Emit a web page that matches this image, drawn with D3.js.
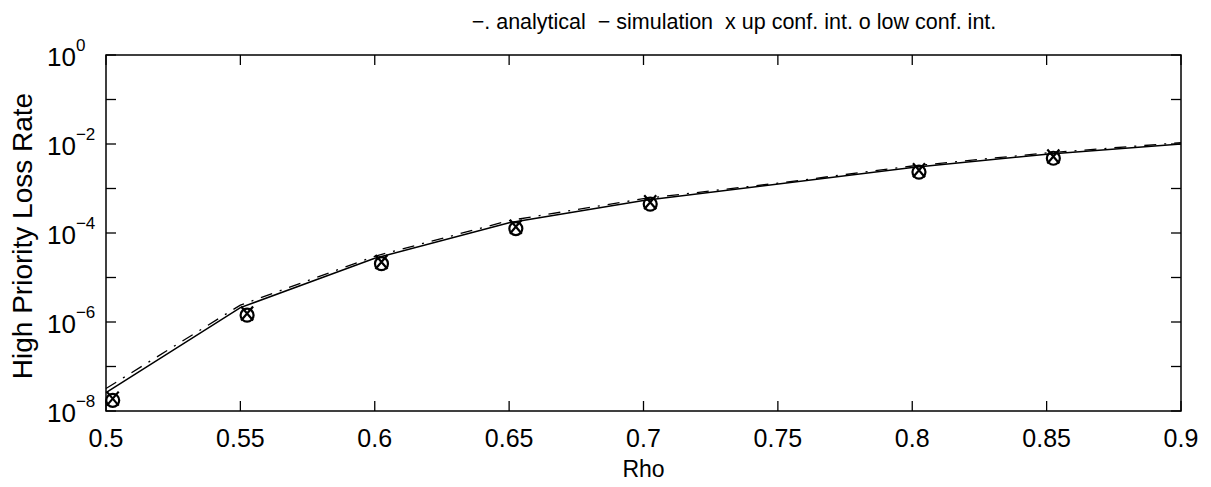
<!DOCTYPE html>
<html>
<head>
<meta charset="utf-8">
<script src="https://cdn.jsdelivr.net/npm/d3@7"></script>
<style>
  body { margin: 0; background: #fff; }
  text { font-family: 'Liberation Sans', Arial, sans-serif; fill: #000; }
</style>
</head>
<body>
<svg id="chart" width="1211" height="487"></svg>
<script>
const width = 1211
const height = 487
const margin = { top: 55, right: 30, bottom: 76, left: 106 }

// analytical curve
const rhoAnalytical = [0.5, 0.55, 0.6, 0.65, 0.7, 0.75, 0.8, 0.85, 0.9]
const lossAnalytical = [3.2e-8, 2.4e-6, 3.0e-5, 1.9e-4, 5.9e-4, 1.32e-3, 3.2e-3, 6.3e-3, 1.07e-2]

// simulation curve
const rhoSimulation = [0.5, 0.55, 0.6, 0.65, 0.7, 0.8, 0.85, 0.9]
const lossSimulation = [2.6e-8, 2.1e-6, 2.7e-5, 1.7e-4, 5.4e-4, 2.95e-3, 5.9e-3, 1.0e-2]

// confidence intervals
const rhoConf = [0.5025, 0.5525, 0.6025, 0.6525, 0.7025, 0.8025, 0.8525]
const upConf = [1.9e-8, 1.55e-6, 2.24e-5, 1.38e-4, 4.9e-4, 2.57e-3, 5.25e-3]
const lowConf = [1.74e-8, 1.42e-6, 2.04e-5, 1.26e-4, 4.47e-4, 2.34e-3, 4.79e-3]

const xTicks = [0.5, 0.55, 0.6, 0.65, 0.7, 0.75, 0.8, 0.85, 0.9]
const yExponents = [0, -1, -2, -3, -4, -5, -6, -7, -8]
const yLabelExponents = [0, -2, -4, -6, -8]

const svg = d3.select('#chart')

const x = d3.scaleLinear()
  .domain([0.5, 0.9])
  .range([margin.left, width - margin.right])

const y = d3.scaleLog()
  .domain([1e-8, 1])
  .range([height - margin.bottom, margin.top])

const line = d3.line()
  .x(d => x(d[0]))
  .y(d => y(d[1]))

// curves
svg.append('path')
  .datum(d3.zip(rhoAnalytical, lossAnalytical))
  .attr('d', line)
  .attr('fill', 'none')
  .attr('stroke', '#000')
  .attr('stroke-width', 1.3)
  .attr('stroke-dasharray', '12,8,2,8')

svg.append('path')
  .datum(d3.zip(rhoSimulation, lossSimulation))
  .attr('d', line)
  .attr('fill', 'none')
  .attr('stroke', '#000')
  .attr('stroke-width', 1.5)

// markers
const ms = 6
svg.selectAll('.up')
  .data(d3.zip(rhoConf, upConf))
  .enter()
  .append('path')
  .attr('class', 'up')
  .attr('d', d => {
    const cx = x(d[0]); const cy = y(d[1])
    return `M${cx - ms},${cy - ms - 1}L${cx + ms},${cy + ms + 1}M${cx - ms},${cy + ms + 1}L${cx + ms},${cy - ms - 1}`
  })
  .attr('stroke', '#000')
  .attr('stroke-width', 2.2)

svg.selectAll('.low')
  .data(d3.zip(rhoConf, lowConf))
  .enter()
  .append('circle')
  .attr('class', 'low')
  .attr('cx', d => x(d[0]))
  .attr('cy', d => y(d[1]))
  .attr('r', 6.5)
  .attr('fill', 'none')
  .attr('stroke', '#000')
  .attr('stroke-width', 2.2)

// box
const x0 = x.range()[0]; const x1 = x.range()[1]
const y0 = y.range()[0]; const y1 = y.range()[1]
svg.append('rect')
  .attr('x', x0)
  .attr('y', y1)
  .attr('width', x1 - x0)
  .attr('height', y0 - y1)
  .attr('fill', 'none')
  .attr('stroke', '#000')
  .attr('stroke-width', 1.5)

const tickLen = 10
const ticks = svg.append('g').attr('stroke', '#000').attr('stroke-width', 1.3)
xTicks.forEach(t => {
  ticks.append('line').attr('x1', x(t)).attr('x2', x(t)).attr('y1', y0).attr('y2', y0 - tickLen)
  ticks.append('line').attr('x1', x(t)).attr('x2', x(t)).attr('y1', y1).attr('y2', y1 + tickLen)
})
yExponents.forEach(e => {
  const v = Math.pow(10, e)
  ticks.append('line').attr('x1', x0).attr('x2', x0 + tickLen).attr('y1', y(v)).attr('y2', y(v))
  ticks.append('line').attr('x1', x1).attr('x2', x1 - tickLen).attr('y1', y(v)).attr('y2', y(v))
})

// tick labels
svg.selectAll('.xlab')
  .data(xTicks)
  .enter()
  .append('text')
  .attr('class', 'xlab')
  .attr('x', d => x(d))
  .attr('y', y0 + 36)
  .attr('text-anchor', 'middle')
  .style('font-size', '25px')
  .text(d => d3.format('')(d))

yLabelExponents.forEach(e => {
  const t = svg.append('text')
    .attr('x', x0 - 59)
    .attr('y', y(Math.pow(10, e)) + 11)
    .style('font-size', '26px')
  t.append('tspan').text('10')
  t.append('tspan')
    .attr('dy', -15)
    .style('font-size', '17px')
    .text(e === 0 ? '0' : '\u2212' + Math.abs(e))
})

// titles
svg.append('text')
  .attr('x', 734)
  .attr('y', 29)
  .attr('text-anchor', 'middle')
  .attr('xml:space', 'preserve')
  .style('font-size', '21.5px')
  .text('\u2212. analytical  \u2212 simulation  x up conf. int. o low conf. int.')

svg.append('text')
  .attr('x', (x0 + x1) / 2)
  .attr('y', 477)
  .attr('text-anchor', 'middle')
  .style('font-size', '23px')
  .text('Rho')

svg.append('text')
  .attr('transform', `translate(32, ${(y0 + y1) / 2 + 3}) rotate(-90)`)
  .attr('text-anchor', 'middle')
  .style('font-size', '28px')
  .text('High Priority Loss Rate')
</script>
</body>
</html>
